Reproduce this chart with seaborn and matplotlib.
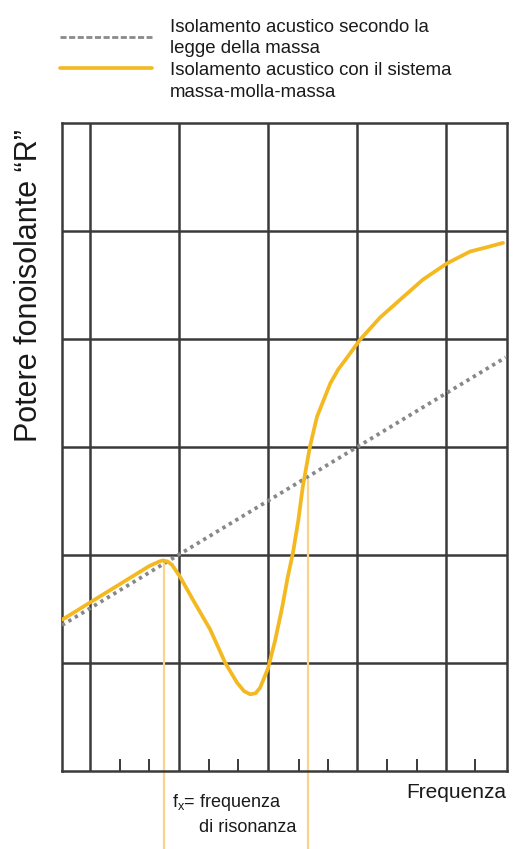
import pandas as pd
import matplotlib.pyplot as plt
import seaborn as sns
from matplotlib.lines import Line2D

sns.set_theme(style="white")
plt.rcParams['font.family'] = ['Liberation Sans', 'DejaVu Sans']

# Frequency axis in "grid units" (one unit per vertical grid line)
grid_x = [0, 1, 2, 3, 4]
grid_y = [1, 2, 3, 4, 5]
minor_ticks = [0.34, 0.66, 1.34, 1.66, 2.35, 2.67, 3.34, 3.67, 4.33]

# Mass law (dotted grey)
mass_x = [-0.315, 4.67]
mass_y = [1.35, 3.83]

# Mass-spring-mass system (yellow)
msm_x = [-0.315, 0.67, 0.78, 0.82, 0.87, 0.92, 1.01, 1.16, 1.35, 1.52, 1.65,
         1.73, 1.80, 1.86, 1.91, 2.00, 2.08, 2.16, 2.22, 2.28, 2.34, 2.39,
         2.47, 2.55, 2.70, 2.79, 2.89, 3.03, 3.26, 3.52, 3.74, 4.01, 4.27,
         4.46, 4.64]
msm_y = [1.40, 1.90, 1.94, 1.95, 1.94, 1.91, 1.80, 1.58, 1.31, 1.00, 0.82,
         0.74, 0.71, 0.72, 0.77, 0.95, 1.21, 1.52, 1.79, 2.02, 2.32, 2.63,
         3.00, 3.28, 3.59, 3.72, 3.83, 3.99, 4.20, 4.39, 4.55, 4.70, 4.81,
         4.85, 4.89]

# Resonance markers (thin yellow verticals)
res_x = [0.83, 2.45]
res_top = [1.95, 2.69]

df_mass = pd.DataFrame({'f': mass_x, 'R': mass_y})
df_msm = pd.DataFrame({'f': msm_x, 'R': msm_y})

fig = plt.figure(figsize=(5.18, 8.49), dpi=100)
ax = fig.add_axes([62/518, 78/849, 445/518, 648/849])

grid_col = '#3a3a3a'
for gx in grid_x:
    ax.axvline(gx, color=grid_col, lw=1.8, zorder=1)
for gy in grid_y:
    ax.axhline(gy, color=grid_col, lw=1.8, zorder=1)

# resonance verticals, running below the axes
for rx, rt in zip(res_x, res_top):
    ax.plot([rx, rx], [rt, -0.75], color='#fcd38c', lw=1.6, clip_on=False, zorder=2)

sns.lineplot(data=df_mass, x='f', y='R', ax=ax, color='#888888', lw=2.7,
             linestyle=(0, (0.9, 1.1)), zorder=3)
sns.lineplot(data=df_msm, x='f', y='R', ax=ax, color='#f4b921', lw=2.7, zorder=4)
ax.lines[-1].set_solid_joinstyle('round')

ax.set_xlim(-0.315, 4.685)
ax.set_ylim(0, 6)
ax.set_xticks(minor_ticks)
ax.set_xticklabels([])
ax.set_yticks([])
ax.tick_params(axis='x', direction='in', length=9, width=1.4, color=grid_col, bottom=True)
ax.set_xlabel('')
ax.set_ylabel('')
for s in ax.spines.values():
    s.set_color(grid_col)
    s.set_linewidth(1.8)

# Legend drawn at the top
fig.add_artist(Line2D([60/518, 152/518], [1-37/849, 1-37/849], color='#8a8a8a',
                      lw=2.0, linestyle=(0, (2.2, 0.9))))
fig.add_artist(Line2D([60/518, 152/518], [1-68/849, 1-68/849], color='#f4b921', lw=2.6))
legend_lines = ["Isolamento acustico secondo la", "legge della massa",
                "Isolamento acustico con il sistema", "massa-molla-massa"]
legend_base = [32, 53, 75, 97]
for txt, yb in zip(legend_lines, legend_base):
    fig.text(170/518, 1-yb/849, txt, fontsize=13.4, va='baseline', ha='left', color='#1a1a1a')

fig.text(29/518, 1-286/849, 'Potere fonoisolante “R”', fontsize=22, rotation=90,
         ha='center', va='center', color='#1a1a1a')
fig.text(506/518, 1-798/849, 'Frequenza', fontsize=15, ha='right', va='baseline', color='#1a1a1a')
fig.text(172/518, 1-807/849, r'f$_\mathregular{x}$= frequenza', fontsize=13, ha='left',
         va='baseline', color='#1a1a1a')
fig.text(199/518, 1-832/849, 'di risonanza', fontsize=13, ha='left', va='baseline', color='#1a1a1a')

fig.savefig('out.png', dpi=100)
